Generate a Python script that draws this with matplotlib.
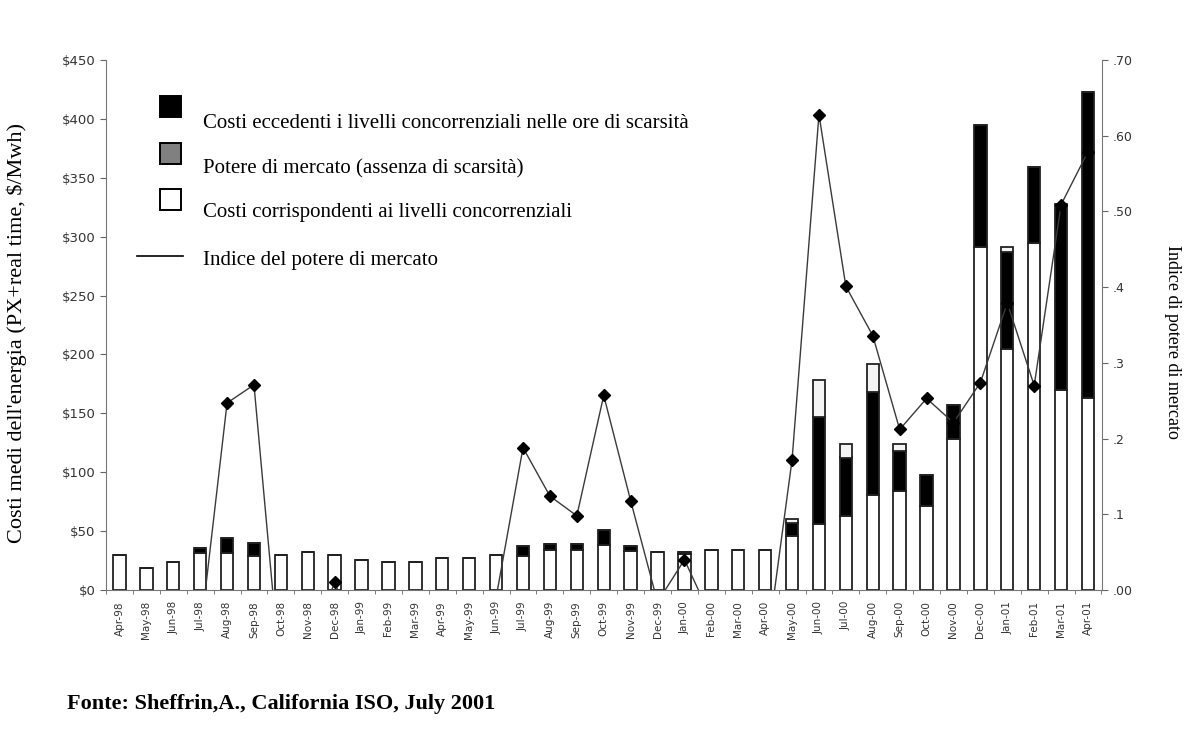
import numpy as np
import matplotlib.pyplot as plt
from matplotlib.patches import Rectangle
from matplotlib.lines import Line2D

# months on the x axis
months = ['Apr-98', 'May-98', 'Jun-98', 'Jul-98', 'Aug-98', 'Sep-98', 'Oct-98', 'Nov-98', 'Dec-98',
          'Jan-99', 'Feb-99', 'Mar-99', 'Apr-99', 'May-99', 'Jun-99', 'Jul-99', 'Aug-99', 'Sep-99',
          'Oct-99', 'Nov-99', 'Dec-99', 'Jan-00', 'Feb-00', 'Mar-00', 'Apr-00', 'May-00', 'Jun-00',
          'Jul-00', 'Aug-00', 'Sep-00', 'Oct-00', 'Nov-00', 'Dec-00', 'Jan-01', 'Feb-01', 'Mar-01',
          'Apr-01']

# $/MWh
competitive = [29.5, 18.5, 23.5, 31, 31, 28.5, 30, 32.5, 30,
               25.5, 23.5, 23.5, 27.5, 27.5, 30, 29, 34, 34,
               38.5, 33.5, 32.5, 30.5, 34, 34, 34, 46, 56,
               63, 81, 84, 71, 128.5, 291.5, 205, 295, 169.5,
               163]
scarcity = [0, 0, 0, 5, 13.5, 11.5, 0, 0, 0,
            0, 0, 0, 0, 0, 0, 8, 5, 5,
            12.5, 3.5, 0, 2, 0, 0, 0, 10.5, 91,
            49.5, 87, 34, 27, 29, 103.5, 82, 64, 158.5,
            260]
market_power = [0, 0, 0, 0, 0, 0, 0, 0, 0,
                0, 0, 0, 0, 0, 0, 0, 0, 0,
                0, 0, 0, 0, 0, 0, 0, 4, 31,
                11.5, 24, 6, 0, 0, 0, 4.5, 0, 0,
                0]

# market power index (values below zero fall under the axis)
mp_index = [-0.08, -0.08, -0.08, -0.06, 0.247, 0.271, -0.12, -0.08, 0.01,
            -0.08, -0.08, -0.08, -0.08, -0.08, -0.01, 0.188, 0.124, 0.098,
            0.257, 0.118, -0.016, 0.040, -0.037, -0.08, -0.093, 0.172, 0.628,
            0.401, 0.336, 0.212, 0.253, 0.221, 0.274, 0.379, 0.270, 0.509,
            0.579]

left_ticks = [0, 50, 100, 150, 200, 250, 300, 350, 400, 450]
right_ticks = [0, 0.1, 0.2, 0.3, 0.4, 0.5, 0.6, 0.7]
right_labels = ['.00', '.1', '.2', '.3', '.4', '.50', '.60', '.70']

legend_labels = ['Costi eccedenti i livelli concorrenziali nelle ore di scarsità',
                 'Potere di mercato (assenza di scarsità)',
                 'Costi corrispondenti ai livelli concorrenziali',
                 'Indice del potere di mercato']

W, H = 1194, 729
fig = plt.figure(figsize=(W / 100, H / 100), dpi=100)
ax = fig.add_axes([106 / W, 1 - 590 / H, 996 / W, 530 / H])

x = np.arange(len(months))
comp = np.array(competitive)
scar = np.array(scarcity)
bw = 0.46
ax.bar(x, comp, width=bw, color='white', edgecolor='#222222', linewidth=1.3, zorder=2)
ax.bar(x, scar, width=bw, bottom=comp, color='black', edgecolor='#222222', linewidth=1.3, zorder=2)
ax.bar(x, market_power, width=bw, bottom=comp + scar, color='#f4f4f4', edgecolor='#222222',
       linewidth=1.3, zorder=2)

ax.set_xlim(-0.48, 36.52)
ax.set_ylim(0, 450)
ax.set_yticks(left_ticks, ['$' + str(v) for v in left_ticks], fontsize=9.5, color='#333333')
ax.set_xticks(x, months, rotation=90, fontsize=7.5, color='#333333')
ax.set_xticks(np.arange(-0.5, 37, 1), minor=True)
ax.tick_params(axis='x', which='major', length=0, pad=8)
ax.tick_params(axis='x', which='minor', length=3, color='#666666')
ax.tick_params(axis='y', length=4, color='#666666')
for s in ['top', 'right']:
    ax.spines[s].set_visible(False)
for s in ['left', 'bottom']:
    ax.spines[s].set_color('#777777')
    ax.spines[s].set_linewidth(0.8)

ax2 = ax.twinx()
ax2.plot(x, mp_index, color='#3a3a3a', linewidth=1.0, marker='D', markersize=6,
         markerfacecolor='black', markeredgecolor='black', zorder=3)
ax2.set_ylim(0, 0.70)
ax2.set_yticks(right_ticks, right_labels, fontsize=9, color='#333333')
ax2.tick_params(axis='y', length=4, color='#666666')
for s in ['top', 'left', 'bottom']:
    ax2.spines[s].set_visible(False)
ax2.spines['right'].set_color('#777777')
ax2.spines['right'].set_linewidth(0.8)


def fx(px):
    return px / W


def fy(py):
    return 1 - py / H


# axis titles
fig.text(fx(17), fy(333), "Costi medi dell'energia (PX+real time, $/Mwh)", family='Liberation Serif',
         fontsize=16, rotation=90, ha='center', va='center')
fig.text(fx(1172), fy(342), 'Indice di potere di mercato', family='Liberation Serif',
         fontsize=13, rotation=-90, ha='center', va='center')

# legend drawn by hand: swatch on the left, text a little lower
swatch_colors = ['black', '#808080', 'white']
swatch_tops = [96, 143, 189]
text_ys = [123, 169, 213, 260]
for i in range(3):
    fig.add_artist(Rectangle((fx(160), fy(swatch_tops[i] + 21)), 21 / W, 21 / H,
                             facecolor=swatch_colors[i], edgecolor='black', linewidth=1.4,
                             transform=fig.transFigure))
fig.add_artist(Line2D([fx(137), fx(183)], [fy(256), fy(256)], color='black', linewidth=1.2,
                      transform=fig.transFigure))
for i in range(4):
    fig.text(fx(203), fy(text_ys[i]), legend_labels[i], family='Liberation Serif',
             fontsize=15, va='center', ha='left')

fig.text(fx(67), fy(704), 'Fonte: Sheffrin,A., California ISO, July 2001',
         family='Liberation Serif', fontsize=16, fontweight='bold', va='center', ha='left')

fig.savefig('out.png', dpi=100)
